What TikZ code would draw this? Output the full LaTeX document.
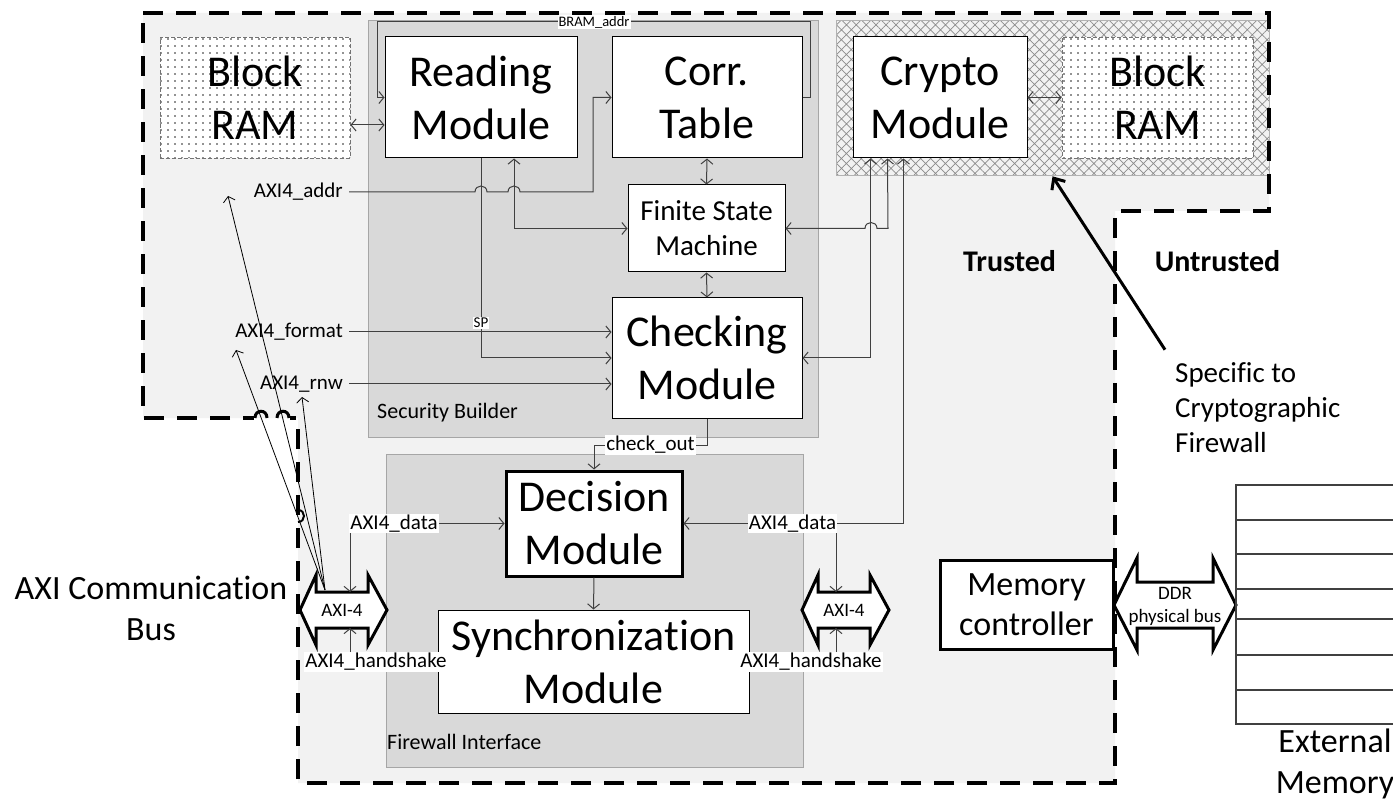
\documentclass[tikz,border=0pt]{standalone}
\usepackage{fontspec}
\setmainfont{Carlito}[RawFeature={-liga;-clig}]
\usetikzlibrary{arrows.meta,patterns.meta,calc}
\definecolor{bgout}{HTML}{F2F2F2}
\definecolor{bgbox}{HTML}{D9D9D9}
\definecolor{boxedge}{HTML}{A6A6A6}
\definecolor{wire}{HTML}{404040}
\tikzset{
  modbox/.style={draw=black, line width=1pt, fill=white, inner sep=0pt, align=center, font=\fontsize{44}{53}\selectfont},
  ramnode/.style={draw=black!55, dash pattern=on 4pt off 2pt, line width=0.9pt, preaction={fill=white}, pattern={Dots[radius=0.9pt, distance=7pt]}, pattern color=black!85, inner sep=0pt, align=center, font=\fontsize{44}{53}\selectfont},
  groupbox/.style={draw=boxedge, fill=bgbox, line width=1pt, inner sep=0pt},
  grouptext/.style={anchor=west, inner sep=0pt, font=\fontsize{22}{26}\selectfont},
  wirestyle/.style={draw=wire, line width=1pt},
  onearrow/.style={wirestyle, -{Straight Barb[length=5pt,width=12pt]}},
  twoarrow/.style={wirestyle, {Straight Barb[length=5pt,width=12pt]}-{Straight Barb[length=5pt,width=12pt]}},
  pointer/.style={draw=black, line width=0.8pt, -{Straight Barb[length=5pt,width=12pt]}},
  sigtext/.style={font=\fontsize{21}{25}\selectfont, inner sep=1pt},
  tagtext/.style={sigtext, fill=white},
  busarrow/.style={draw=black, line width=3pt, fill=white, line join=miter},
  bustext/.style={font=\fontsize{19}{23}\selectfont, inner sep=0pt, align=center},
  bigtext/.style={font=\fontsize{34}{41}\selectfont, align=center, inner sep=0pt},
  zonetext/.style={font=\fontsize{30}{36}\selectfont\bfseries, anchor=base, inner sep=0pt},
}
\begin{document}
\begin{tikzpicture}[x=1pt,y=-1pt]
\useasboundingbox (0,0) rectangle (1393,802);
% trusted zone background
\fill[bgout] (143,13) -- (1269,13) -- (1269,211) -- (1115,211) -- (1115,783) -- (298,783) -- (298,418) -- (143,418) -- cycle;
% group boxes
\node[groupbox, minimum width=450pt, minimum height=416pt] (secb) at (593,229) {};
\node[grouptext] (secbl) at (377,413) {Security Builder};
\node[groupbox, minimum width=417pt, minimum height=313pt] (fwi) at (594.5,610.5) {};
\node[grouptext] (fwil) at (387,742) {Firewall Interface};
\node[draw=black!30, line width=1pt, preaction={fill=bgout}, pattern={Hatch[angle=45,distance=7pt,line width=0.7pt]}, pattern color=black!45, minimum width=433pt, minimum height=155pt, inner sep=0pt] (cryreg) at (1052.5,98.5) {};
% dashed trusted border
\draw[line width=4pt, dash pattern=on 20pt off 13pt] (143,13) -- (1269,13) -- (1269,211) -- (1115,211) -- (1115,783) -- (298,783) -- (298,418) -- (143,418) -- cycle;
% hops on the border
\fill[bgout] (254,413) rectangle (268,418);
\fill[white] (254,418) rectangle (268,421);
\fill[bgout] (276,413) rectangle (290,418);
\fill[white] (276,418) rectangle (290,421);
\draw[line width=3pt] (255,418) .. controls (255,409) and (267,409) .. (267,418);
\draw[line width=3pt] (277,418) .. controls (277,409) and (289,409) .. (289,418);
\draw[line width=2pt] (298,510) .. controls (306,510) and (306,522) .. (298,522);

% modules
\node[ramnode, minimum width=190pt, minimum height=121pt] (ramL) at (255,97.5) {Block\\RAM};
\node[modbox, minimum width=192pt, minimum height=121pt] (read) at (481,97.5) {Reading\\Module};
\node[modbox, minimum width=190pt, minimum height=121pt] (corr) at (707,97.5) {Corr.\\Table};
\node[modbox, minimum width=174pt, minimum height=121pt] (crypto) at (940,97.5) {Crypto\\Module};
\node[ramnode, minimum width=191pt, minimum height=121pt] (ramR) at (1157.5,97.5) {Block\\RAM};
\node[modbox, minimum width=157pt, minimum height=87pt, font=\fontsize{29}{35}\selectfont] (fsm) at (706.5,228.5) {Finite State\\Machine};
\node[modbox, minimum width=190pt, minimum height=120pt] (chk) at (707,358) {Checking\\Module};
\node[modbox, line width=3pt, minimum width=176pt, minimum height=105pt] (dec) at (594,523.5) {Decision\\Module};
\node[modbox, minimum width=311pt, minimum height=103pt] (sync) at (593.5,661.5) {Synchronization\\Module};
\node[modbox, line width=3pt, minimum width=173pt, minimum height=89pt, font=\fontsize{34}{40}\selectfont] (memc) at (1026.5,604.5) {Memory\\controller};

% signal labels (left)
\node[sigtext, anchor=east] (laddr) at (344,192) {AXI4\_addr};
\node[sigtext, anchor=east] (lfmt) at (344,332) {AXI4\_format};
\node[sigtext, anchor=east] (lrnw) at (344,384) {AXI4\_rnw};

% wires inside security builder
\draw[onearrow] ([xshift=5pt]laddr.east) -- (475,192) .. controls (475,184) and (487,184) .. (487,192) -- (508,192) .. controls (508,184) and (520,184) .. (520,192) -- (593,192) -- (593,97.5) -- (corr.west);
\draw[onearrow] ([xshift=5pt]lfmt.east) -- (lfmt.east -| chk.west);
\draw[onearrow] ([xshift=5pt]lrnw.east) -- (lrnw.east -| chk.west);
\draw[onearrow] (read.south) |- (chk.west);
\draw[twoarrow] ($(read.south)+(33,0)$) |- (fsm.west);
\draw[twoarrow] (corr.south) -- (fsm.north);
\draw[twoarrow] (fsm.south) -- (chk.north);
\draw[twoarrow] ($(ramL.east)+(0,27.5)$) -- ($(read.west)+(0,27.5)$);
\draw[onearrow] (corr.east) -- (810,97.5) -- (810,22) -- (377,22) -- (377,97.5) -- (read.west);
\node[font=\fontsize{14.5}{17}\selectfont, fill=white, inner sep=1pt] (bram) at (594,22) {BRAM\_addr};
\node[font=\fontsize{15}{18}\selectfont, fill=white, inner sep=1pt] (sp) at (481,323) {SP};
\draw[twoarrow] (crypto.east) -- (ramR.west);

% crypto wires
\draw[twoarrow] ($(crypto.south west)+(18,0)$) |- (chk.east);
\draw[twoarrow] ($(crypto.south west)+(35,0)$) -- (888,228.5) -- (877,228.5) .. controls (877,220.5) and (865,220.5) .. (865,228.5) -- (fsm.east);
\node[tagtext] (rdata) at (792.5,523.5) {AXI4\_data};
\draw[wirestyle, {Straight Barb[length=5pt,width=12pt]}-] ($(crypto.south west)+(51,0)$) |- (rdata.east);
\draw[onearrow] (rdata.west) -- (dec.east);

% check_out and decision
\node[tagtext] (chkout) at (650.5,445) {check\_out};
\draw[wirestyle] (chk.south) |- (chkout.east);
\draw[onearrow] (chkout.west) -| (dec.north);
\draw[onearrow] (dec.south) -- (sync.north);

% AXI bus points
\coordinate (axiLtop) at (350,592);
\coordinate (axiLbot) at (350,628);
\coordinate (axiRtop) at (836,592);
\coordinate (axiRbot) at (836,628);
\coordinate (src) at (325,590);

% left data / handshake
\node[tagtext] (ldata) at (394,523.5) {AXI4\_data};
\draw[onearrow] (ldata.east) -- (dec.west);
\node[tagtext] (lhs) at (376,662) {AXI4\_handshake};
\node[tagtext] (rhs) at (811,662) {AXI4\_handshake};

% pointer lines to signal labels
\coordinate (taddr) at (228,196);
\coordinate (tfmt) at (236,350);
\coordinate (trnw) at (302,397);
\draw[pointer] (src) -- (taddr);
\draw[pointer] (src) -- (tfmt);
\draw[pointer] (src) -- (trnw);

% bus arrows
\draw[busarrow] (300,610) -- (316,575) -- (316,592) -- (368,592) -- (368,575) -- (387,610) -- (368,645) -- (368,628) -- (316,628) -- (316,645) -- cycle;
\node[bustext] (axiL) at (342,610) {AXI-4};
\draw[busarrow] (802,610) -- (818,575) -- (818,592) -- (870,592) -- (870,575) -- (889,610) -- (870,645) -- (870,628) -- (818,628) -- (818,645) -- cycle;
\node[bustext] (axiR) at (844,610) {AXI-4};
\draw[busarrow] (1114,605) -- (1137,558) -- (1137,582) -- (1213,582) -- (1213,558) -- (1236,605) -- (1213,650) -- (1213,628) -- (1137,628) -- (1137,650) -- cycle;
\node[bustext] (ddr) at (1175,606) {DDR\\physical bus};

\draw[onearrow] (axiLtop |- ldata.south) -- (axiLtop);
\draw[onearrow] (axiLbot |- lhs.north) -- (axiLbot);
\draw[onearrow] (axiRtop |- rdata.south) -- (axiRtop);
\draw[onearrow] (axiRbot |- rhs.north) -- (axiRbot);

% external memory
\node[draw=wire, line width=1.2pt, minimum width=170pt, minimum height=239pt, inner sep=0pt] (extmem) at (1321,604.5) {};
\foreach \yy in {520,554,589,619,655,690} \draw[wire, line width=1.2pt] (1236,\yy) -- (1400,\yy);
\node[bigtext] (extl) at (1335,764) {External\\Memory};

% outer texts
\node[bigtext] (axibus) at (151,608) {AXI Communication\\Bus};
\node[zonetext] (trusted) at (1009.5,272) {Trusted};
\node[zonetext] (untrusted) at (1217.5,272) {Untrusted};
\node[font=\fontsize{29}{35}\selectfont, align=left, anchor=west, inner sep=0pt] (spec) at (1175,408) {Specific to\\Cryptographic\\Firewall};
\draw[line width=3pt, -{Straight Barb[length=9pt,width=16pt]}] ($(spec.north west)+(-10,-13)$) -- (cryreg.south);
\end{tikzpicture}
\end{document}
